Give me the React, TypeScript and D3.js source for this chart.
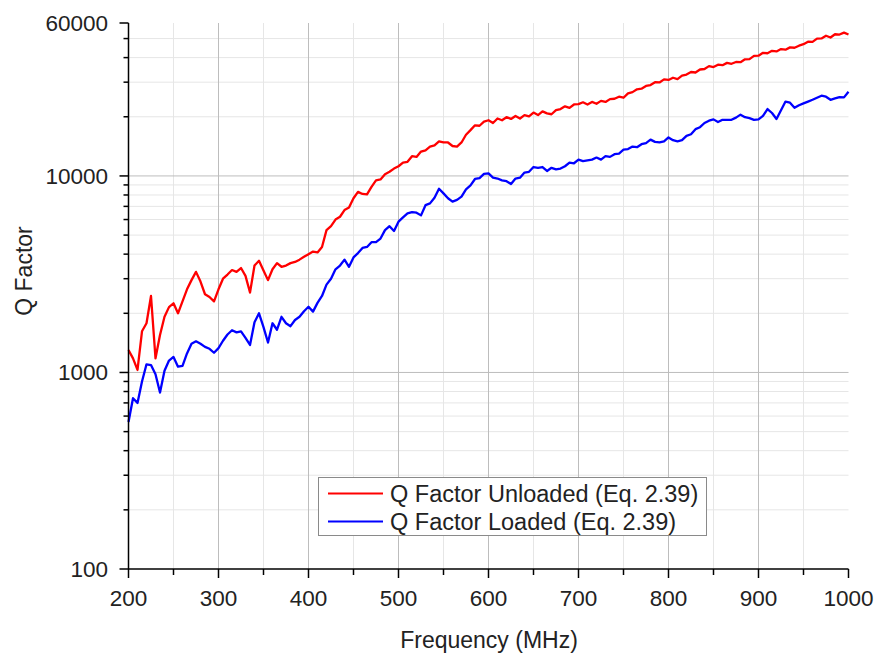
import React from "react";
import * as d3 from "d3";

// Sampling grid (MHz) and series values
const freqs: number[] = d3.range(200, 1001, 5);

const qUnloaded: number[] = [
  1300, 1180, 1030, 1620, 1780, 2450, 1180, 1550, 1920, 2150,
  2250, 2000, 2300, 2650, 2950, 3250, 2900, 2500, 2420, 2300,
  2650, 3000, 3150, 3320, 3250, 3400, 3100, 2550, 3500, 3700,
  3300, 2950, 3350, 3600, 3450, 3500, 3600, 3650, 3750, 3880,
  4000, 4120, 4080, 4350, 5300, 5550, 6000, 6200, 6700, 6900,
  7700, 8300, 8100, 8050, 8800, 9500, 9600, 10200, 10500, 10900,
  11200, 11700, 11800, 12600, 12500, 13300, 13500, 14100, 14300, 15000,
  14800, 14800, 14200, 14100, 14800, 16200, 17100, 18100, 18000, 18900,
  19200, 18600, 19600, 19200, 19900, 19500, 20200, 19600, 20400, 20100,
  21000, 20400, 21300, 20800, 20600, 21600, 21900, 22600, 22200, 23100,
  23200, 23700, 23100, 23800, 23300, 24100, 23800, 24600, 24700, 25300,
  25000, 26300, 26700, 27600, 27800, 28700, 29000, 30000, 29900, 31000,
  30800, 31600, 31100, 32400, 32800, 33800, 33600, 34800, 35000, 36200,
  35800, 36800, 36600, 37600, 37200, 38000, 37900, 39200, 39300, 40800,
  40900, 42300, 42100, 43300, 43000, 44200, 43900, 45100, 44900, 46000,
  46800, 48200, 48100, 50000, 50100, 51700, 50600, 52600, 52400, 53600,
  52400,
];

const qLoaded: number[] = [
  560, 740, 700, 900, 1100, 1090, 980, 790, 1020, 1150,
  1200, 1070, 1080, 1250, 1400, 1440, 1400, 1350, 1320, 1260,
  1330, 1450, 1560, 1640, 1600, 1620, 1500, 1380, 1800, 2000,
  1700, 1420, 1780, 1650, 1920, 1780, 1720, 1850, 1920, 2050,
  2160, 2040, 2260, 2450, 2800, 3000, 3350, 3500, 3750, 3450,
  3850, 4050, 4300, 4350, 4600, 4600, 4800, 5300, 5550, 5250,
  5850, 6150, 6450, 6550, 6500, 6300, 7100, 7250, 7750, 8600,
  8150, 7700, 7400, 7550, 7850, 8550, 8950, 9650, 9750, 10250,
  10300, 9800, 9700, 9500, 9400, 9100, 9700, 9800, 10400, 10500,
  11100, 11000, 11100, 10600, 11000, 10800, 10900, 11200, 11700, 11600,
  12100, 11900, 12000, 12100, 12400, 12100, 12600, 12500, 12900, 13000,
  13600, 13700, 14100, 14000, 14500, 14700, 15300, 14900, 14800, 15000,
  15700, 15200, 15000, 15200, 16000, 16300, 17300, 17700, 18600, 19100,
  19400, 18800, 19300, 19300, 19300, 19800, 20500, 19900, 19700, 19300,
  19400, 20200, 21900, 20900, 19500, 21600, 23900, 23600, 22200, 22900,
  23400, 23900, 24400, 25000, 25600, 25300, 24400, 24800, 25200, 25100,
  26800,
];

const xMajorTicks: number[] = [200, 300, 400, 500, 600, 700, 800, 900, 1000];
const xMinorTicks: number[] = [250, 350, 450, 550, 650, 750, 850, 950];
const yMajorTicks: number[] = [100, 1000, 10000, 60000];
const yMinorTicks: number[] = [
  200, 300, 400, 500, 600, 700, 800, 900,
  2000, 3000, 4000, 5000, 6000, 7000, 8000, 9000,
  20000, 30000, 40000, 50000,
];
const seriesLabels: string[] = [
  "Q Factor Unloaded (Eq. 2.39)",
  "Q Factor Loaded (Eq. 2.39)",
];
const seriesColors: string[] = ["#ff0000", "#0000ff"];

const W = 880;
const H = 655;
const FONT = "'Liberation Sans', Arial, Helvetica, sans-serif";

export default function App() {
  const x = d3.scaleLinear().domain([200, 1000]).range([128.5, 848.5]);
  const y = d3.scaleLog().domain([100, 60000]).range([569, 23]);
  const [x0, x1] = x.range();
  const [yb, yt] = y.range();

  const line = d3
    .line<number>()
    .x((_, i) => x(freqs[i]))
    .y((d) => y(d));

  const series = [qUnloaded, qLoaded];

  return (
    <svg
      width={W}
      height={H}
      style={{ position: "absolute", left: 0, top: 0, background: "#fff" }}
      fontFamily={FONT}
    >
      <rect x={0} y={0} width={W} height={H} fill="#fff" />
      {/* minor grid */}
      <g stroke="#e6e6e6" strokeWidth={1}>
        {xMinorTicks.map((t) => (
          <line key={"xm" + t} x1={x(t)} x2={x(t)} y1={yt} y2={yb} />
        ))}
        {yMinorTicks.map((t) => (
          <line key={"ym" + t} x1={x0} x2={x1} y1={y(t)} y2={y(t)} />
        ))}
      </g>
      {/* major grid */}
      <g stroke="#bdbdbd" strokeWidth={1}>
        {xMajorTicks
          .filter((t) => t > 200 && t < 1000)
          .map((t) => (
            <line key={"xM" + t} x1={x(t)} x2={x(t)} y1={yt} y2={yb} />
          ))}
        {yMajorTicks
          .filter((t) => t > 100 && t < 60000)
          .map((t) => (
            <line key={"yM" + t} x1={x0} x2={x1} y1={y(t)} y2={y(t)} />
          ))}
      </g>
      {/* series */}
      {series.map((s, i) => (
        <path
          key={"s" + i}
          d={line(s) || ""}
          fill="none"
          stroke={seriesColors[i]}
          strokeWidth={2.3}
          strokeLinejoin="round"
        />
      ))}
      {/* axes */}
      <g stroke="#000" strokeWidth={1.5}>
        <line x1={x0} x2={x0} y1={yt} y2={yb} />
        <line x1={x0} x2={x1} y1={yb} y2={yb} />
        {yMajorTicks.map((t) => (
          <line key={"yt" + t} x1={x0 - 9} x2={x0} y1={y(t)} y2={y(t)} />
        ))}
        {yMinorTicks.map((t) => (
          <line key={"ymt" + t} x1={x0 - 5} x2={x0} y1={y(t)} y2={y(t)} />
        ))}
        {xMajorTicks.map((t) => (
          <line key={"xt" + t} x1={x(t)} x2={x(t)} y1={yb} y2={yb + 9} />
        ))}
        {xMinorTicks.map((t) => (
          <line key={"xmt" + t} x1={x(t)} x2={x(t)} y1={yb} y2={yb + 6} />
        ))}
      </g>
      {/* tick labels */}
      <g fill="#222" fontSize={22.5}>
        {yMajorTicks.map((t) => (
          <text key={"yl" + t} x={108} y={y(t) + 8} textAnchor="end">
            {String(t)}
          </text>
        ))}
        {xMajorTicks.map((t) => (
          <text key={"xl" + t} x={x(t)} y={606} textAnchor="middle">
            {String(t)}
          </text>
        ))}
      </g>
      {/* axis titles */}
      <text x={489} y={648} textAnchor="middle" fontSize={23} fill="#222">
        Frequency (MHz)
      </text>
      <text
        transform={`translate(32,271) rotate(-90)`}
        textAnchor="middle"
        fontSize={23}
        fill="#222"
      >
        Q Factor
      </text>
      {/* legend */}
      <g>
        <rect
          x={318.5}
          y={477.5}
          width={388}
          height={58}
          fill="#fff"
          stroke="#8a8a8a"
          strokeWidth={1}
        />
        {seriesLabels.map((lab, i) => (
          <g key={"lg" + i}>
            <line
              x1={328}
              x2={383}
              y1={493.5 + i * 28}
              y2={493.5 + i * 28}
              stroke={seriesColors[i]}
              strokeWidth={2}
            />
            <text x={390} y={501.5 + i * 28.5} fontSize={23.5} fill="#222">
              {lab}
            </text>
          </g>
        ))}
      </g>
    </svg>
  );
}
